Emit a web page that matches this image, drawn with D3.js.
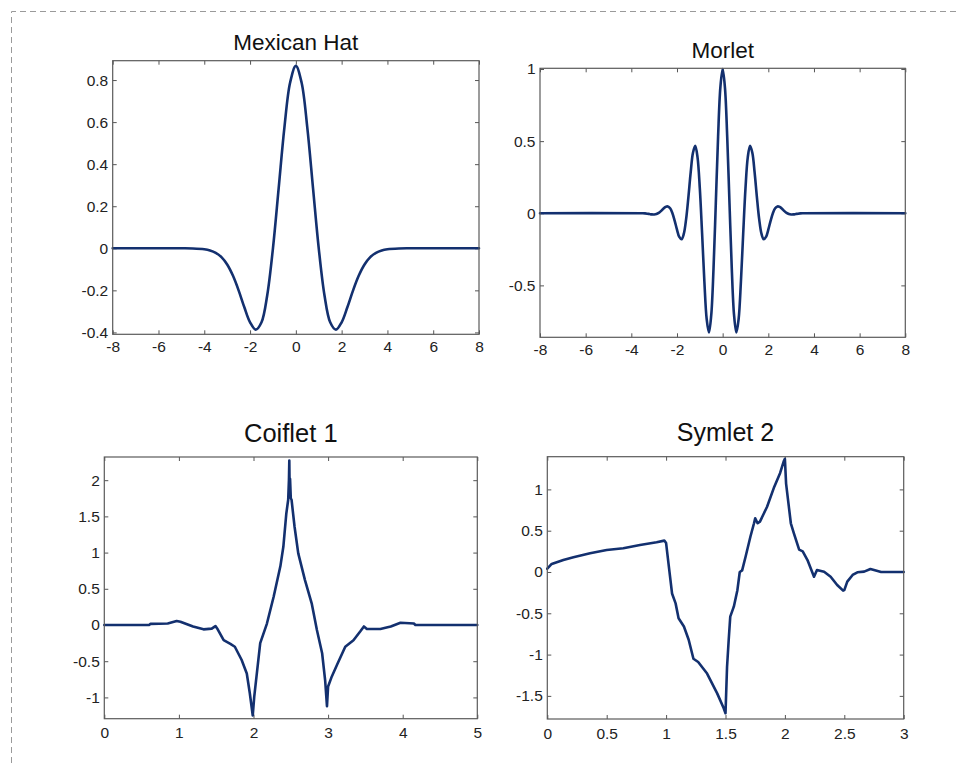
<!DOCTYPE html>
<html>
<head>
<meta charset="utf-8">
<script src="https://cdn.jsdelivr.net/npm/d3@7"></script>
<style>
  html, body { margin: 0; padding: 0; background: #fff; }
  svg { display: block; }
  text { font-family: "Liberation Sans", Arial, Helvetica, sans-serif; }
</style>
</head>
<body>
<div id="chart"></div>
<script>
// ---------------- DATA ----------------
const titles = ["Mexican Hat", "Morlet", "Coiflet 1", "Symlet 2"];

const mexHatX = [-8, -5, -4.5, -4, -3.75, -3.5, -3.25, -3, -2.75, -2.5, -2.25, -2, -1.75, -1.5, -1.25, -1, -0.75, -0.5, -0.25, 0,
  0.25, 0.5, 0.75, 1, 1.25, 1.5, 1.75, 2, 2.25, 2.5, 2.75, 3, 3.25, 3.5, 3.75, 4, 4.5, 5, 8];
const mexHatY = [0, 0, -0.0007, -0.0044, -0.0100, -0.0213, -0.0422, -0.0771, -0.1298, -0.1999, -0.2805, -0.3521, -0.3870, -0.3520, -0.2233, 0, 0.2864, 0.5740, 0.7881, 0.8673,
  0.7881, 0.5740, 0.2864, 0, -0.2233, -0.3520, -0.3870, -0.3521, -0.2805, -0.1999, -0.1298, -0.0771, -0.0422, -0.0213, -0.0100, -0.0044, -0.0007, 0, 0];

const morletX = [-8, -3.5, -3.4, -3.3, -3.2, -3.1, -3.0, -2.9, -2.8, -2.7, -2.6, -2.5, -2.4, -2.3, -2.2, -2.1, -2.0, -1.9, -1.8, -1.7, -1.6, -1.5, -1.4, -1.3, -1.2, -1.1, -1.0, -0.9, -0.8, -0.7, -0.6, -0.5, -0.4, -0.3, -0.2, -0.1, 0,
  0.1, 0.2, 0.3, 0.4, 0.5, 0.6, 0.7, 0.8, 0.9, 1.0, 1.1, 1.2, 1.3, 1.4, 1.5, 1.6, 1.7, 1.8, 1.9, 2.0, 2.1, 2.2, 2.3, 2.4, 2.5, 2.6, 2.7, 2.8, 2.9, 3.0, 3.1, 3.2, 3.3, 3.4, 3.5, 8];
const morletY = [0, 0, -0.0009, -0.0030, -0.0057, -0.0080, -0.0084, -0.0053, 0.0027, 0.0155, 0.0309, 0.0438, 0.0474, 0.0343, 0.0004, -0.0524, -0.1136, -0.1640, -0.1803, -0.1419, -0.0404, 0.1125, 0.2830, 0.4195, 0.4674, 0.3870, 0.1721, -0.1406, -0.4746, -0.7330, -0.8269, -0.7070, -0.3841, 0.0676, 0.5296, 0.8732, 1.0,
  0.8732, 0.5296, 0.0676, -0.3841, -0.7070, -0.8269, -0.7330, -0.4746, -0.1406, 0.1721, 0.3870, 0.4674, 0.4195, 0.2830, 0.1125, -0.0404, -0.1419, -0.1803, -0.1640, -0.1136, -0.0524, 0.0004, 0.0343, 0.0474, 0.0438, 0.0309, 0.0155, 0.0027, -0.0053, -0.0084, -0.0080, -0.0057, -0.0030, -0.0009, 0, 0];

const coifX = [0, 0.60, 0.62, 0.85, 0.97, 1.02, 1.19, 1.33, 1.44, 1.49, 1.52, 1.60, 1.69, 1.75, 1.84, 1.91, 1.95, 1.99, 2.01, 2.05, 2.09, 2.18, 2.27, 2.36, 2.40, 2.44, 2.465, 2.475, 2.48, 2.485, 2.49, 2.50,
  2.51, 2.55, 2.60, 2.69, 2.78, 2.85, 2.92, 2.96, 2.985, 3.00, 3.05, 3.12, 3.23, 3.34, 3.43, 3.48, 3.52, 3.70, 3.84, 3.97, 4.15, 4.17, 5];
const coifY = [0, 0, 0.015, 0.02, 0.055, 0.045, -0.02, -0.06, -0.05, -0.015, -0.06, -0.21, -0.26, -0.30, -0.48, -0.67, -0.94, -1.25, -0.99, -0.62, -0.25, 0.02, 0.39, 0.81, 1.08, 1.54, 1.73, 2.0, 2.27, 1.8, 2.02, 1.75,
  1.73, 1.36, 0.99, 0.62, 0.30, -0.07, -0.39, -0.76, -1.12, -0.85, -0.71, -0.55, -0.30, -0.21, -0.09, -0.02, -0.055, -0.055, -0.02, 0.03, 0.02, 0, 0];

const symX = [0, 0.037, 0.135, 0.22, 0.36, 0.50, 0.64, 0.78, 0.92, 0.985, 1.00, 1.02, 1.05, 1.08, 1.105, 1.15, 1.19, 1.23, 1.27, 1.345, 1.43, 1.485, 1.50,
  1.513, 1.527, 1.54, 1.57, 1.60, 1.62, 1.64, 1.67, 1.71, 1.74, 1.75, 1.77, 1.79, 1.85, 1.91, 1.96, 1.99, 2.00,
  2.01, 2.05, 2.075, 2.12, 2.15, 2.19, 2.245, 2.27, 2.33, 2.385, 2.44, 2.49, 2.50, 2.525, 2.57, 2.61, 2.667, 2.72, 2.78, 2.81, 3];
const symY = [0.04, 0.097, 0.145, 0.178, 0.226, 0.267, 0.287, 0.327, 0.36, 0.38, 0.35, 0.105, -0.26, -0.38, -0.56, -0.66, -0.82, -1.05, -1.09, -1.23, -1.47, -1.65, -1.71,
  -1.15, -0.82, -0.54, -0.42, -0.22, 0.00, 0.02, 0.19, 0.43, 0.59, 0.65, 0.59, 0.61, 0.79, 1.03, 1.20, 1.34, 1.37,
  1.07, 0.59, 0.47, 0.27, 0.25, 0.145, -0.057, 0.024, 0.004, -0.057, -0.158, -0.226, -0.22, -0.117, -0.036, -0.004, 0.004, 0.036, 0.012, 0, 0];

const mexXTicks = [-8, -6, -4, -2, 0, 2, 4, 6, 8];
const mexYTicks = [-0.4, -0.2, 0, 0.2, 0.4, 0.6, 0.8];
const morXTicks = [-8, -6, -4, -2, 0, 2, 4, 6, 8];
const morYTicks = [-0.5, 0, 0.5, 1];
const coifXTicks = [0, 1, 2, 3, 4, 5];
const coifYTicks = [-1, -0.5, 0, 0.5, 1, 1.5, 2];
const symXTicks = [0, 0.5, 1, 1.5, 2, 2.5, 3];
const symYTicks = [-1.5, -1, -0.5, 0, 0.5, 1];

// ---------------- LAYOUT ----------------
const W = 958, H = 763;
const lineColor = "#13306f";

const panels = [
  { title: titles[0], xs: mexHatX, ys: mexHatY, xd: [-8, 8], yd: [-0.409, 0.892], xt: mexXTicks, yt: mexYTicks,
    box: [112.7, 60.7, 479, 334.3], fs: 22.5, curve: d3.curveCatmullRom, xpad: 6.5 },
  { title: titles[1], xs: morletX, ys: morletY, xd: [-8, 8], yd: [-0.86, 1.005], xt: morXTicks, yt: morYTicks,
    box: [540, 68.3, 905.3, 337.3], fs: 22.5, curve: d3.curveCatmullRom, xpad: 6.5 },
  { title: titles[2], xs: coifX, ys: coifY, xd: [0, 5], yd: [-1.294, 2.32], xt: coifXTicks, yt: coifYTicks,
    box: [104.3, 457, 477.3, 718.7], fs: 25.5, curve: d3.curveLinear, xpad: 8 },
  { title: titles[3], xs: symX, ys: symY, xd: [0, 3], yd: [-1.78, 1.396], xt: symXTicks, yt: symYTicks,
    box: [547.3, 456.7, 903.7, 719], fs: 25, curve: d3.curveLinear, xpad: 8.5 }
];

const svg = d3.select("#chart").append("svg")
  .attr("width", W).attr("height", H)
  .attr("viewBox", `0 0 ${W} ${H}`);

svg.append("rect").attr("width", W).attr("height", H).attr("fill", "#fff");

// dashed frame
svg.append("path")
  .attr("d", "M11.5,763 L11.5,11.5 L958,11.5")
  .attr("fill", "none")
  .attr("stroke", "#9a9a9a")
  .attr("stroke-width", 1)
  .attr("stroke-dasharray", "6,4");

const fmt = v => String(v);

panels.forEach(p => {
  const [x0, y0, x1, y1] = p.box;
  const x = d3.scaleLinear().domain(p.xd).range([x0, x1]);
  const y = d3.scaleLinear().domain(p.yd).range([y1, y0]);
  const g = svg.append("g");

  // axes
  const tickLen = 4;
  const styleAxis = sel => {
    sel.select(".domain").remove();
    sel.selectAll(".tick line").attr("stroke", "#555").attr("stroke-width", 1);
    sel.selectAll(".tick text").attr("fill", "#222").style("font-size", "15.5px")
      .style("font-family", '"Liberation Sans", Arial, sans-serif');
  };

  g.append("g").attr("transform", `translate(0,${y1})`)
    .call(d3.axisBottom(x).tickValues(p.xt).tickFormat(fmt).tickSizeInner(-tickLen).tickSizeOuter(0).tickPadding(p.xpad))
    .call(styleAxis);
  g.append("g").attr("transform", `translate(0,${y0})`)
    .call(d3.axisTop(x).tickValues(p.xt).tickFormat("").tickSizeInner(-tickLen).tickSizeOuter(0))
    .call(styleAxis);
  g.append("g").attr("transform", `translate(${x0},0)`)
    .call(d3.axisLeft(y).tickValues(p.yt).tickFormat(fmt).tickSizeInner(-tickLen).tickSizeOuter(0).tickPadding(4.5))
    .call(styleAxis);
  g.append("g").attr("transform", `translate(${x1},0)`)
    .call(d3.axisRight(y).tickValues(p.yt).tickFormat("").tickSizeInner(-tickLen).tickSizeOuter(0))
    .call(styleAxis);

  // data line
  const pts = p.xs.map((v, i) => [v, p.ys[i]]);
  g.append("path")
    .datum(pts)
    .attr("fill", "none")
    .attr("stroke", lineColor)
    .attr("stroke-width", 2.6)
    .attr("stroke-linejoin", "round")
    .attr("stroke-linecap", "round")
    .attr("d", d3.line().x(d => x(d[0])).y(d => y(d[1])).curve(p.curve));

  // box
  g.append("rect")
    .attr("x", x0).attr("y", y0)
    .attr("width", x1 - x0).attr("height", y1 - y0)
    .attr("fill", "none").attr("stroke", "#5a5a5a").attr("stroke-width", 1.2);

  // title
  g.append("text")
    .attr("x", (x0 + x1) / 2)
    .attr("y", y0 - (p.fs > 24 ? 15.5 : 10.5))
    .attr("text-anchor", "middle")
    .attr("fill", "#111")
    .style("font-size", p.fs + "px")
    .text(p.title);
});
</script>
</body>
</html>
